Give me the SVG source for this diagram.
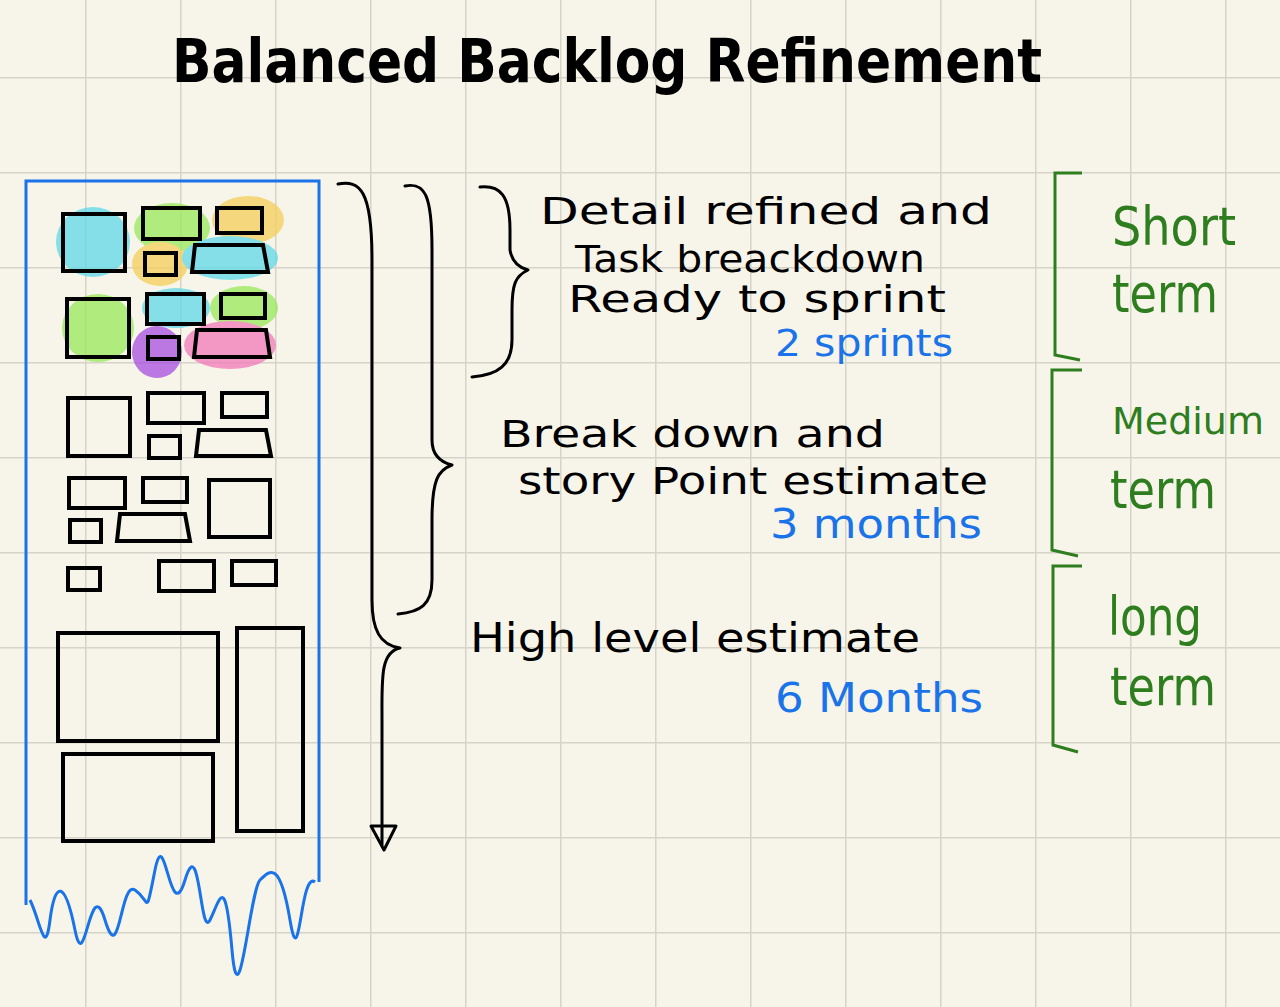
<svg xmlns="http://www.w3.org/2000/svg" width="1280" height="1007" viewBox="0 0 1280 1007">
<defs>
<pattern id="grid" x="-10" y="-18" width="95" height="95" patternUnits="userSpaceOnUse">
<path d="M0 0H95M0 0V95" fill="none" stroke="#d6d4c8" stroke-width="3"/>
</pattern>
<style>
.k{fill:none;stroke:#000;stroke-width:4}
.b{fill:none;stroke:#000;stroke-width:3;stroke-linecap:round;stroke-linejoin:round}
.g{fill:none;stroke:#2e7d1e;stroke-width:3}
.t{font-family:"Comic Sans MS","DejaVu Sans",sans-serif;fill:#000}
.bl{fill:#1a73e8}
.gr{fill:#2e7d1e}
</style>
</defs>
<rect width="1280" height="1007" fill="#f7f5e9"/>
<rect width="1280" height="1007" fill="url(#grid)"/>
<text x="172" y="82" class="t" font-size="60" font-weight="bold" textLength="870" lengthAdjust="spacingAndGlyphs">Balanced Backlog Refinement</text>
<g id="backlog">
<path d="M26 905V181H319V882" fill="none" stroke="#1a73e8" stroke-width="3"/>
<path d="M30 900C40 920 45 960 50 920S65 880 75 930S90 870 105 920S120 880 135 890S145 920 155 870S170 930 185 880S200 940 210 920S225 870 232 950S250 890 260 880S280 860 290 920S300 870 315 882" fill="none" stroke="#1a73e8" stroke-width="3"/>
<g opacity="0.75">
<ellipse cx="93" cy="242" rx="37" ry="35" fill="#5fd8e8"/>
<ellipse cx="172" cy="228" rx="38" ry="25" fill="#98e85a"/>
<ellipse cx="248" cy="220" rx="36" ry="24" fill="#f5cf5a"/>
<ellipse cx="160" cy="264" rx="28" ry="22" fill="#f5cf5a"/>
<ellipse cx="230" cy="258" rx="48" ry="22" fill="#5fd8e8"/>
<ellipse cx="98" cy="328" rx="36" ry="34" fill="#98e85a"/>
<ellipse cx="176" cy="308" rx="34" ry="20" fill="#5fd8e8"/>
<ellipse cx="244" cy="308" rx="34" ry="22" fill="#98e85a"/>
<ellipse cx="157" cy="352" rx="25" ry="26" fill="#a84de0"/>
<ellipse cx="230" cy="345" rx="46" ry="24" fill="#f27ab8"/>
</g>
<g class="k">
<rect x="63" y="214" width="62" height="57"/>
<rect x="143" y="208" width="57" height="31"/>
<rect x="217" y="208" width="45" height="25"/>
<rect x="145" y="253" width="31" height="22"/>
<path d="M195 245H263L268 272H192Z"/>
<rect x="67" y="299" width="62" height="58"/>
<rect x="147" y="294" width="57" height="30"/>
<rect x="221" y="294" width="44" height="24"/>
<rect x="148" y="337" width="31" height="22"/>
<path d="M197 330H266L270 357H194Z"/>
<rect x="68" y="398" width="62" height="58"/>
<rect x="148" y="393" width="56" height="30"/>
<rect x="222" y="393" width="45" height="24"/>
<rect x="149" y="436" width="31" height="22"/>
<path d="M199 430H266L271 456H196Z"/>
<rect x="69" y="478" width="56" height="30"/>
<rect x="143" y="478" width="44" height="24"/>
<rect x="209" y="480" width="61" height="57"/>
<rect x="70" y="520" width="31" height="22"/>
<path d="M120 514H185L190 541H117Z"/>
<rect x="68" y="568" width="32" height="22"/>
<rect x="159" y="561" width="55" height="30"/>
<rect x="232" y="561" width="44" height="24"/>
<rect x="58" y="633" width="160" height="108"/>
<rect x="237" y="628" width="66" height="203"/>
<rect x="63" y="754" width="150" height="87"/>
</g>
</g>
<g id="connectors">
<path class="b" d="M338 184C360 180 372 190 372 260V600C372 630 380 645 400 648C380 652 382 680 382 720V845"/>
<path class="b" d="M371 826L384 850L396 826Z"/>
<path class="b" d="M405 186C425 182 432 195 432 250V440C432 455 440 462 452 465C438 470 432 480 432 520V580C432 605 420 612 398 614"/>
<path class="b" d="M480 187C500 185 510 195 510 230V250C512 262 520 268 528 270C515 276 512 285 512 310V340C512 365 498 375 472 377"/>
</g>
<g id="labels">
<text class="t" font-size="38" x="540" y="224" textLength="452" lengthAdjust="spacingAndGlyphs">Detail refined and</text>
<text class="t" font-size="38" x="575" y="272" textLength="350" lengthAdjust="spacingAndGlyphs">Task breackdown</text>
<text class="t" font-size="38" x="568" y="312" textLength="378" lengthAdjust="spacingAndGlyphs">Ready to sprint</text>
<text class="t bl" font-size="38" x="775" y="356" textLength="178" lengthAdjust="spacingAndGlyphs">2 sprints</text>
<text class="t" font-size="38" x="500" y="447" textLength="385" lengthAdjust="spacingAndGlyphs">Break down and</text>
<text class="t" font-size="38" x="518" y="494" textLength="470" lengthAdjust="spacingAndGlyphs">story Point estimate</text>
<text class="t bl" font-size="40" x="770" y="538" textLength="212" lengthAdjust="spacingAndGlyphs">3 months</text>
<text class="t" font-size="40" x="470" y="652" textLength="450" lengthAdjust="spacingAndGlyphs">High level estimate</text>
<text class="t bl" font-size="40" x="775" y="712" textLength="208" lengthAdjust="spacingAndGlyphs">6 Months</text>
</g>
<g id="terms">
<path class="g" d="M1082 173H1055V355L1080 360"/>
<path class="g" d="M1082 370H1052V550L1078 556"/>
<path class="g" d="M1082 566H1053V745L1078 752"/>
<text class="t gr" font-size="54" x="1112" y="245" textLength="124" lengthAdjust="spacingAndGlyphs">Short</text>
<text class="t gr" font-size="54" x="1112" y="312" textLength="106" lengthAdjust="spacingAndGlyphs">term</text>
<text class="t gr" font-size="38" x="1112" y="434">Medium</text>
<text class="t gr" font-size="54" x="1110" y="508" textLength="106" lengthAdjust="spacingAndGlyphs">term</text>
<text class="t gr" font-size="54" x="1108" y="635" textLength="94" lengthAdjust="spacingAndGlyphs">long</text>
<text class="t gr" font-size="54" x="1110" y="705" textLength="106" lengthAdjust="spacingAndGlyphs">term</text>
</g>
</svg>
